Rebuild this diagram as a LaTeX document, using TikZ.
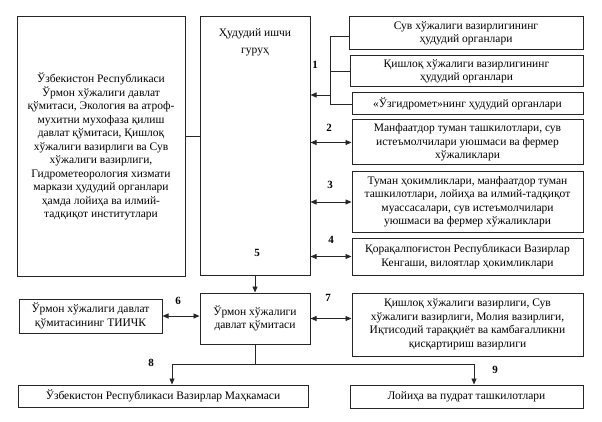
\documentclass[tikz,border=0pt]{standalone}
\usepackage{fontspec}
\setmainfont{Liberation Serif}
\newfontfamily\tnrfont{Liberation Serif}
\usetikzlibrary{arrows.meta,calc}
\begin{document}
\begin{tikzpicture}[x=1pt,y=-1pt,
  box/.style={draw=black!85,line width=1pt,align=center,inner sep=0pt,font=\tnrfont\fontsize{11.5}{13.5}\selectfont},
  plain/.style={align=center,inner sep=0pt,font=\tnrfont\fontsize{11.5}{17}\selectfont},
  num/.style={font=\tnrfont\bfseries\fontsize{11}{13}\selectfont,inner sep=0pt},
  conn/.style={line width=0.9pt,draw=black!85},
  tip/.style={-{Triangle[length=6pt,width=5pt]}},
  dtip/.style={{Triangle[length=6pt,width=5pt]}-{Triangle[length=6pt,width=5pt]}}]
\useasboundingbox (0,0) rectangle (602,422);
% top part
\node[box,minimum width=168pt,minimum height=259pt] (L) at (101,146.5)
 {Ўзбекистон Республикаси\\Ўрмон хўжалиги давлат\\қўмитаси, Экология ва атроф-\\мухитни мухофаза қилиш\\давлат қўмитаси, Қишлоқ\\хўжалиги вазирлиги ва Сув\\хўжалиги вазирлиги,\\Гидрометеорология хизмати\\маркази ҳудудий органлари\\ҳамда лойиҳа ва илмий-\\тадқиқот институтлари};
\node[box,minimum width=110pt,minimum height=258pt] (M) at (255,146) {};
\node[plain] (Mt) at (255,42) {Ҳудудий ишчи\\гуруҳ};
\node[box,minimum width=234pt,minimum height=33pt] (R1) at (466,33.5) {Сув хўжалиги вазирлигининг\\ҳудудий органлари};
\node[box,minimum width=233pt,minimum height=31pt] (R2) at (466.5,71.5) {Қишлоқ хўжалиги вазирлигининг\\ҳудудий органлари};
\node[box,minimum width=231pt,minimum height=22pt] (R3) at (467.5,104) {«Ўзгидромет»нинг ҳудудий органлари};
\node[box,minimum width=231pt,minimum height=45pt] (R4) at (467.5,142.5) {Манфаатдор туман ташкилотлари, сув\\истеъмолчилари уюшмаси ва фермер\\хўжаликлари};
\node[box,minimum width=231pt,minimum height=60pt] (R5) at (467.5,202) {Туман ҳокимликлари, манфаатдор туман\\ташкилотлари, лойиҳа ва илмий-тадқиқот\\муассасалари, сув истеъмолчилари\\уюшмаси ва фермер хўжаликлари};
\node[box,minimum width=231pt,minimum height=37pt] (R6) at (467.5,256.5) {Қорақалпоғистон Республикаси Вазирлар\\Кенгаши, вилоятлар ҳокимликлари};
% bottom part
\node[box,minimum width=143pt,minimum height=34pt] (T) at (90.5,316) {Ўрмон хўжалиги давлат\\қўмитасининг ТИИЧК};
\node[box,minimum width=110pt,minimum height=51pt] (U) at (255,318.5) {Ўрмон хўжалиги\\давлат қўмитаси};
\node[box,minimum width=231pt,minimum height=63pt] (V) at (467.5,324.5) {Қишлоқ хўжалиги вазирлиги, Сув\\хўжалиги вазирлиги, Молия вазирлиги,\\Иқтисодий тараққиёт ва камбағалликни\\қисқартириш вазирлиги};
\node[box,minimum width=290pt,minimum height=22pt] (B1) at (163,396) {Ўзбекистон Республикаси Вазирлар Маҳкамаси};
\node[box,minimum width=233pt,minimum height=23pt] (B2) at (466.5,396.5) {Лойиҳа ва пудрат ташкилотлари};
% numbers
\node[num] (n1) at (315,65) {1};
\node[num] (n2) at (329,128) {2};
\node[num] (n3) at (330,185) {3};
\node[num] (n4) at (331,240) {4};
\node[num] (n5) at (257,253) {5};
\node[num] (n6) at (178,301) {6};
\node[num] (n7) at (328,298) {7};
\node[num] (n8) at (151,363) {8};
\node[num] (n9) at (495,370) {9};
% connectors
\coordinate (lm) at (0,136);
\draw[conn] (L.east |- lm) -- (M.west |- lm);
\coordinate (br) at (330,95);
\coordinate (t1) at (0,36);
\draw[conn] (R1.west |- t1) -- (br |- t1) -- (br |- R3.west) -- (R3.west);
\draw[conn] (br |- R2.west) -- (R2.west);
\draw[conn,tip] (br) -- (M.east |- br);
\draw[conn,dtip] (M.east |- R4.west) -- (R4.west);
\draw[conn,dtip] (M.east |- R5.west) -- (R5.west);
\draw[conn,dtip] (M.east |- R6.west) -- (R6.west);
\draw[conn,tip] (M.south) -- (U.north);
\draw[conn,dtip] (T.east) -- (T.east -| U.west);
\draw[conn,dtip] (U.east) -- (U.east -| V.west);
\coordinate (a8) at (172,364);
\coordinate (a9) at (474,364);
\draw[conn] (U.south) -- (U.south |- a8);
\draw[conn,tip] (U.south |- a8) -- (a8) -- (a8 |- B1.north);
\draw[conn,tip] (U.south |- a9) -- (a9) -- (a9 |- B2.north);
\end{tikzpicture}
\end{document}
